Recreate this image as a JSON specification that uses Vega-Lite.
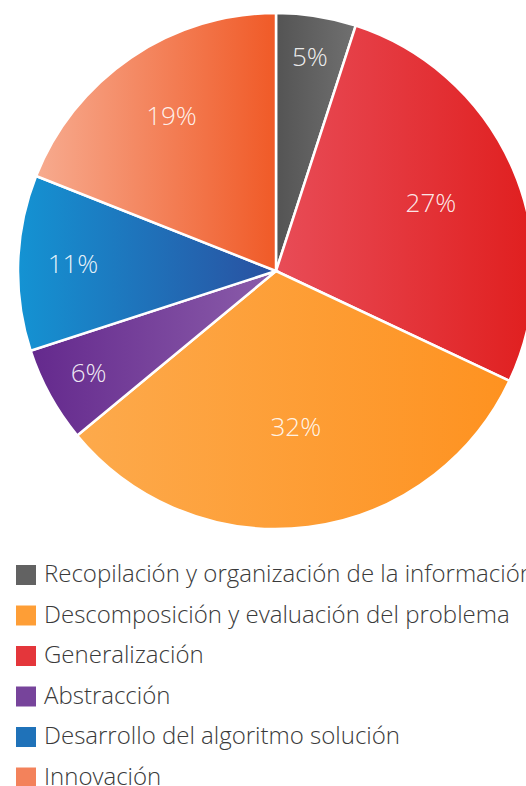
{
  "$schema": "https://vega.github.io/schema/vega-lite/v6.json",
  "width": 552,
  "height": 542,
  "padding": 0,
  "autosize": {"type": "pad"},
  "background": "white",
  "config": {"view": {"stroke": null}},
  "data": {"values": [
    {"cat": "Recopilación y organización de la información", "value": 5, "label": "5%", "o": 1},
    {"cat": "Generalización", "value": 27, "label": "27%", "o": 2},
    {"cat": "Descomposición y evaluación del problema", "value": 32, "label": "32%", "o": 3},
    {"cat": "Abstracción", "value": 6, "label": "6%", "o": 4},
    {"cat": "Desarrollo del algoritmo solución", "value": 11, "label": "11%", "o": 5},
    {"cat": "Innovación", "value": 19, "label": "19%", "o": 6}
  ]},
  "encoding": {
    "theta": {"field": "value", "type": "quantitative", "stack": true},
    "order": {"field": "o", "type": "quantitative"}
  },
  "layer": [
    {
      "mark": {"type": "arc", "outerRadius": 258, "stroke": "white", "strokeWidth": 2.5},
      "encoding": {
        "fill": {
          "condition": [
            {"test": "datum.o === 1", "value": {"gradient": "linear", "x1": 0, "y1": 0, "x2": 1, "y2": 0, "stops": [{"offset": 0, "color": "#545454"}, {"offset": 1, "color": "#707070"}]}},
            {"test": "datum.o === 2", "value": {"gradient": "linear", "x1": 0, "y1": 0, "x2": 1, "y2": 0, "stops": [{"offset": 0, "color": "#e84c57"}, {"offset": 1, "color": "#e01f1f"}]}},
            {"test": "datum.o === 3", "value": {"gradient": "linear", "x1": 0, "y1": 0, "x2": 1, "y2": 0, "stops": [{"offset": 0, "color": "#fdaa4c"}, {"offset": 1, "color": "#fe9220"}]}},
            {"test": "datum.o === 4", "value": {"gradient": "linear", "x1": 0, "y1": 0, "x2": 1, "y2": 0, "stops": [{"offset": 0, "color": "#64298d"}, {"offset": 1, "color": "#8b5daa"}]}},
            {"test": "datum.o === 5", "value": {"gradient": "linear", "x1": 0, "y1": 0, "x2": 1, "y2": 0, "stops": [{"offset": 0, "color": "#1493d3"}, {"offset": 1, "color": "#2a50a0"}]}},
            {"test": "datum.o === 6", "value": {"gradient": "linear", "x1": 0, "y1": 0, "x2": 1, "y2": 0, "stops": [{"offset": 0, "color": "#f7ab8f"}, {"offset": 1, "color": "#f05a27"}]}}
          ],
          "field": "cat",
          "type": "nominal",
          "scale": {
            "domain": [
              "Recopilación y organización de la información",
              "Descomposición y evaluación del problema",
              "Generalización",
              "Abstracción",
              "Desarrollo del algoritmo solución",
              "Innovación"
            ],
            "range": ["#626262", "#fe9e36", "#e4363b", "#77449b", "#1f72b9", "#f3825b"]
          },
          "legend": {
            "orient": "none",
            "legendX": 14,
            "legendY": 563,
            "padding": 0,
            "direction": "vertical",
            "title": null,
            "symbolType": "square",
            "symbolSize": 400,
            "symbolStrokeWidth": 0,
            "symbolOpacity": 1,
            "labelFont": "Open Sans",
            "labelFontWeight": 300,
            "labelFontSize": 24,
            "labelColor": "#3a3a3a",
            "labelOffset": 6,
            "labelLimit": 0,
            "rowPadding": 16.5
          }
        }
      }
    },
    {
      "mark": {"type": "text", "font": "Open Sans", "fontWeight": 300, "fontSize": 26, "fill": "white", "fillOpacity": 0.9, "align": "center", "baseline": "middle"},
      "encoding": {
        "text": {"field": "label", "type": "nominal"},
        "radius": {"field": "value", "type": "quantitative", "scale": {"type": "linear", "zero": false, "domain": [5, 32], "range": [216, 158]}}
      }
    }
  ]
}
